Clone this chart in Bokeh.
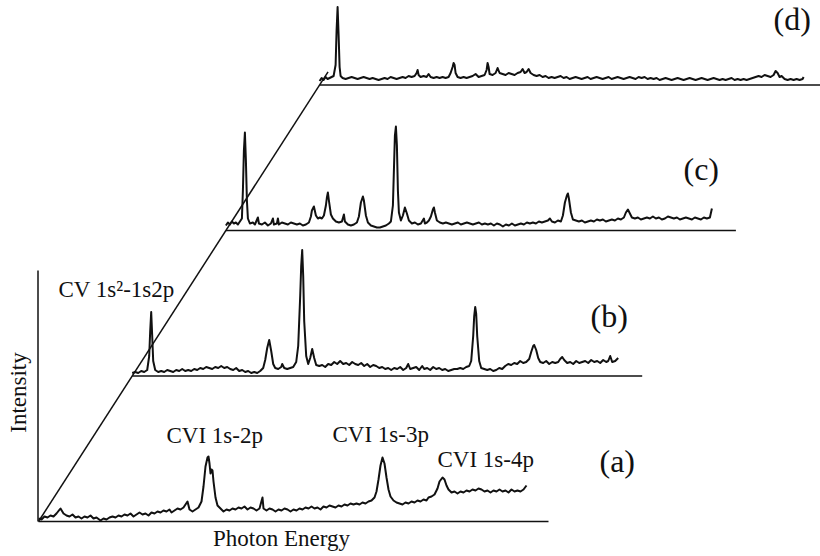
from bokeh.plotting import figure
from bokeh.models import Range1d, Label
from bokeh.embed import file_html
from bokeh.resources import INLINE

# ---- data: (energy channel, intensity a.u.) ----
spec_a = [(0,3),(3,2),(6,5),(9,4),(12,6),(15,5),(18,8),(22,13),(25,8),(28,6),(31,5),(34,7),(37,4),(40,5),(43,3),(46,5),(49,4),(52,6),(55,3),(58,4),(62,1),(65,3),(68,2),(71,4),(74,5),(77,4),(80,6),(83,5),(86,7),(89,6),(92,8),(95,5),(98,7),(101,9),(104,7),(107,8),(110,6),(113,9),(116,8),(119,10),(122,9),(125,11),(128,10),(131,12),(133,9),(136,11),(139,13),(142,12),(145,14),(149,20),(151,12),(154,10),(157,12),(160,14),(163,20),(165,35),(167,55),(169,64),(170,65),(171,58),(172,48),(173,52),(174,51),(175,40),(177,24),(179,16),(182,13),(185,10),(188,12),(191,11),(194,13),(197,12),(200,14),(203,13),(206,15),(209,12),(212,14),(215,13),(218,11),(221,13),(224,24),(225,13),(228,11),(231,13),(234,12),(237,10),(240,12),(243,11),(246,13),(249,12),(252,10),(255,12),(258,11),(261,13),(264,12),(267,14),(270,13),(273,15),(276,13),(279,14),(282,12),(285,15),(288,14),(291,16),(294,15),(297,14),(300,16),(303,15),(306,17),(309,16),(312,18),(315,17),(318,18),(321,17),(324,19),(327,18),(330,20),(333,21),(336,24),(338,30),(340,42),(342,56),(344,64),(346,58),(348,44),(350,32),(352,25),(355,21),(358,19),(361,18),(364,17),(367,19),(370,18),(373,20),(376,19),(379,21),(382,20),(385,22),(388,21),(390,24),(393,25),(396,27),(399,33),(401,40),(404,44),(406,42),(408,36),(410,32),(413,29),(416,30),(419,28),(422,30),(425,29),(428,31),(431,30),(434,32),(437,31),(440,33),(443,32),(446,30),(449,31),(452,29),(455,31),(458,30),(461,32),(464,30),(467,31),(470,29),(473,32),(476,30),(479,31),(482,30),(485,32),(488,36)]

spec_b = [(0,3),(3,4),(6,3),(9,5),(12,4),(15,6),(17,20),(18,45),(19,64),(20,40),(21,15),(23,6),(26,4),(29,5),(32,4),(35,6),(38,5),(41,4),(44,6),(47,5),(50,7),(53,5),(56,6),(59,5),(62,7),(65,6),(68,8),(71,7),(74,9),(77,8),(80,7),(83,9),(86,8),(89,10),(92,8),(95,9),(98,7),(101,6),(104,8),(107,5),(110,6),(113,4),(116,5),(119,3),(122,4),(125,3),(128,5),(131,8),(133,16),(135,28),(137,36),(139,25),(141,12),(143,8),(146,7),(149,9),(150,12),(152,8),(155,7),(158,8),(161,9),(164,14),(166,30),(168,80),(169,110),(170,126),(171,100),(172,55),(174,20),(176,12),(178,18),(180,27),(182,18),(184,11),(187,10),(190,11),(193,9),(196,12),(199,11),(202,14),(205,12),(208,15),(211,12),(214,13),(217,11),(220,14),(223,12),(226,11),(229,13),(232,10),(235,12),(238,9),(241,11),(244,10),(247,8),(250,9),(253,7),(256,8),(259,6),(262,8),(265,7),(268,9),(271,6),(274,8),(276,12),(278,7),(281,8),(284,9),(287,6),(290,10),(292,7),(295,8),(298,6),(301,9),(304,7),(307,8),(310,6),(313,7),(316,5),(319,6),(322,7),(325,7),(328,8),(331,7),(334,9),(337,10),(339,15),(341,40),(342,60),(343,69),(344,62),(345,40),(347,15),(349,8),(352,7),(355,6),(358,7),(361,5),(364,6),(367,8),(370,7),(373,10),(376,12),(379,11),(382,13),(385,12),(388,15),(391,13),(394,14),(397,17),(399,24),(401,30),(402,31),(404,26),(406,18),(408,14),(411,13),(414,15),(417,12),(420,14),(423,13),(426,14),(428,17),(430,19),(432,16),(435,13),(438,14),(441,12),(444,15),(447,13),(450,14),(453,15),(456,13),(459,16),(462,14),(465,15),(468,13),(471,16),(474,14),(476,15),(478,20),(480,14),(483,15),(486,18)]

spec_c = [(0,5),(2,8),(4,6),(6,9),(8,7),(10,8),(12,6),(14,9),(16,12),(17,40),(18,80),(19,98),(20,70),(21,30),(22,12),(24,7),(27,8),(29,6),(32,13),(33,7),(36,6),(39,8),(42,5),(45,7),(47,12),(48,6),(51,7),(52,12),(53,6),(56,8),(59,7),(62,6),(65,8),(68,7),(71,6),(74,7),(77,5),(80,6),(83,8),(85,14),(86,20),(88,24),(90,15),(92,12),(94,13),(96,12),(98,15),(100,25),(101,33),(102,38),(103,30),(105,16),(107,12),(110,9),(113,8),(116,9),(118,16),(119,9),(122,6),(125,5),(128,6),(131,8),(133,14),(135,28),(137,34),(138,30),(140,15),(142,8),(145,5),(148,4),(151,3),(154,3),(157,4),(160,5),(163,7),(165,9),(167,25),(168,60),(169,95),(170,104),(171,85),(172,40),(173,18),(175,10),(177,15),(179,23),(181,17),(183,10),(186,7),(189,8),(192,6),(195,7),(198,12),(199,7),(201,8),(203,10),(205,14),(207,21),(208,23),(209,18),(211,10),(214,8),(217,7),(220,8),(223,7),(226,6),(229,7),(232,8),(235,6),(238,7),(241,8),(244,7),(247,6),(250,7),(253,8),(256,6),(259,7),(262,6),(265,7),(268,5),(271,7),(274,6),(277,4),(280,6),(283,5),(286,7),(289,5),(292,6),(295,7),(298,6),(301,8),(304,7),(307,8),(310,7),(313,9),(316,8),(319,9),(322,10),(324,12),(326,9),(329,8),(332,10),(335,9),(337,15),(339,28),(341,35),(342,37),(343,32),(345,18),(347,11),(350,10),(353,9),(356,10),(359,8),(362,9),(365,10),(368,9),(371,11),(374,10),(377,11),(380,9),(383,10),(386,11),(389,10),(392,12),(395,11),(398,13),(400,18),(402,21),(404,17),(406,13),(409,12),(412,13),(415,11),(418,12),(421,13),(424,12),(427,14),(430,12),(433,13),(436,11),(439,12),(442,14),(445,13),(448,12),(451,13),(454,11),(457,12),(460,13),(463,12),(466,11),(469,13),(472,12),(475,11),(478,13),(481,12),(484,13),(486,22)]

spec_d = [(0,4),(2,7),(4,5),(6,8),(8,6),(10,7),(12,8),(14,9),(16,20),(17,55),(18,78),(19,50),(20,18),(21,9),(23,7),(26,6),(29,7),(32,8),(35,7),(38,6),(41,7),(44,8),(47,7),(50,6),(53,7),(56,6),(59,5),(62,6),(65,7),(68,6),(71,8),(74,7),(77,6),(80,7),(83,8),(86,7),(89,9),(92,8),(95,9),(97,12),(98,15),(99,10),(101,8),(104,9),(107,8),(109,11),(111,8),(114,7),(117,8),(120,7),(123,8),(126,7),(129,8),(131,12),(133,18),(134,22),(135,20),(136,12),(138,8),(141,7),(144,8),(147,7),(150,8),(153,9),(156,11),(159,8),(162,9),(165,10),(167,15),(168,22),(169,18),(170,11),(173,10),(176,12),(178,17),(180,12),(183,11),(186,10),(189,12),(192,11),(195,10),(198,12),(201,13),(203,16),(205,12),(207,13),(209,16),(211,12),(214,10),(217,9),(220,10),(223,8),(226,9),(229,7),(232,8),(235,7),(238,8),(241,9),(244,7),(247,8),(250,6),(253,7),(256,8),(259,7),(262,6),(265,7),(268,8),(271,6),(274,7),(277,8),(280,7),(283,6),(286,7),(289,8),(292,6),(295,7),(298,8),(301,7),(304,6),(307,7),(310,8),(313,7),(316,6),(319,8),(322,7),(325,8),(328,6),(331,7),(334,6),(337,7),(340,5),(343,6),(346,7),(349,6),(352,5),(355,6),(358,7),(361,6),(364,5),(367,6),(370,7),(373,6),(376,5),(379,6),(382,7),(385,6),(388,5),(391,6),(394,7),(397,6),(400,5),(403,6),(406,5),(409,6),(412,7),(415,5),(418,6),(421,5),(424,6),(427,5),(430,6),(433,7),(436,8),(439,9),(442,8),(445,10),(448,9),(451,8),(454,10),(456,14),(458,12),(460,8),(462,9),(465,6),(468,5),(471,6),(474,5),(477,6),(480,5),(483,6),(484,8)]

spectra = [spec_a, spec_b, spec_c, spec_d]
panel_tags = ["(a)", "(b)", "(c)", "(d)"]
line_notes = ["CVI 1s-2p", "CVI 1s-3p", "CVI 1s-4p", "CV 1s\u00b2-1s2p"]

# ---- layout of the waterfall ----
DX, DY = 93.7, 145.5          # shift of each successive spectrum along the depth axis
E_SPAN = 510                  # length of each baseline
INK = "#111111"
SERIF = "Liberation Serif"

p = figure(width=820, height=556, x_range=Range1d(-38, 782), y_range=Range1d(-35, 521),
           output_backend="svg", toolbar_location=None, min_border=0)
p.axis.visible = False
p.grid.visible = False
p.outline_line_color = None
p.background_fill_color = "white"
p.border_fill_color = "white"

# intensity axis and depth (diagonal) axis
p.line([-0.5, -0.5], [0, 251], line_color=INK, line_width=1.5)
p.line([0, 3.09 * DX], [0, 3.09 * DY], line_color=INK, line_width=1.5)

for k, spec in enumerate(spectra):
    ox, oy = k * DX, k * DY
    e = [ox + s[0] for s in spec]
    it = [oy + s[1] for s in spec]
    p.line([ox, ox + E_SPAN], [oy, oy], line_color=INK, line_width=1.5)
    p.line(e, it, line_color=INK, line_width=2.0, line_join="round")

tag_pos = [(561, 61), (552, 206), (645, 353), (735, 503)]
for tag, (tx, ty) in zip(panel_tags, tag_pos):
    p.add_layout(Label(x=tx, y=ty, text=tag, text_font=SERIF, text_font_size="32px",
                       text_color=INK, text_baseline="alphabetic"))

note_pos = [(128, 86), (294, 87), (399, 62), (20, 232)]
for txt, (tx, ty) in zip(line_notes, note_pos):
    p.add_layout(Label(x=tx, y=ty, text=txt, text_font=SERIF, text_font_size="23px",
                       text_color=INK, text_baseline="alphabetic"))

p.add_layout(Label(x=243, y=-17, text="Photon Energy", text_font=SERIF, text_font_size="23px",
                   text_color=INK, text_align="center", text_baseline="alphabetic"))
p.add_layout(Label(x=-20, y=129, text="Intensity", text_font=SERIF, text_font_size="23px",
                   text_color=INK, text_align="center", text_baseline="middle", angle=1.5708))

open("out.html", "w").write(file_html(p, INLINE))
